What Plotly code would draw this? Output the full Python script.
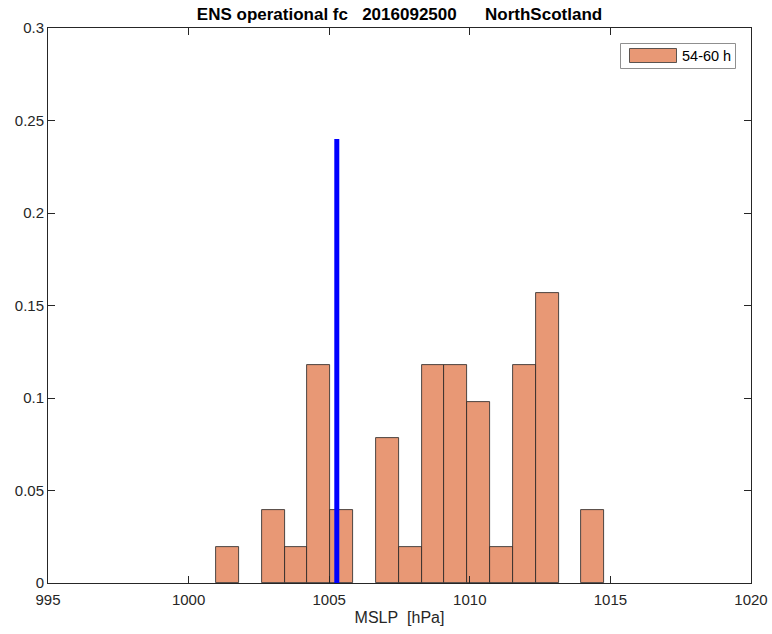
import plotly.graph_objects as go

# Ensemble histogram of MSLP (51 members), lead time 54-60 h
bin_start = 1000.98          # lower edge of the first bin [hPa]
bin_width = 0.8118           # bin width [hPa]
member_counts = [1, 0, 2, 1, 6, 2, 0, 4, 1, 6, 6, 5, 1, 6, 8, 0, 2]
n_members = 51
analysis_mslp = 1005.27      # verifying value [hPa]
analysis_height = 0.24

x_ticks = [995, 1000, 1005, 1010, 1015, 1020]
y_ticks = [0, 0.05, 0.1, 0.15, 0.2, 0.25, 0.3]
y_tick_text = ["0", "0.05", "0.1", "0.15", "0.2", "0.25", "0.3"]

nb = "\u00a0"
title_text = "ENS operational fc" + nb * 3 + "2016092500" + nb * 6 + "NorthScotland"
x_title = "MSLP" + nb * 2 + "[hPa]"
legend_label = "54-60 h"

# only non-empty bins are drawn
centers, probs = [], []
for i, c in enumerate(member_counts):
    if c > 0:
        centers.append(bin_start + bin_width * (i + 0.5))
        probs.append(c / n_members)

bar_fill = "rgb(232,152,117)"
axis_col = "#262626"
font_family = "Liberation Sans, Arial, sans-serif"

# plot area in pixels
L, R, T, B = 48, 21, 28, 51
W, H = 772, 634
pw, ph = W - L - R, H - T - B


def px(xpix):
    return (xpix - L) / pw


def py(ypix):
    return (H - B - ypix) / ph


fig = go.Figure()
fig.add_trace(go.Bar(
    x=centers, y=probs, width=[bin_width] * len(centers),
    marker=dict(color=bar_fill, line=dict(color="#222222", width=0.8)),
    showlegend=False, hoverinfo="x+y",
))
fig.add_trace(go.Scatter(
    x=[analysis_mslp, analysis_mslp], y=[0, analysis_height],
    mode="lines", line=dict(color="#0000ff", width=5),
    showlegend=False,
))

# Legend box drawn in paper coordinates
shapes = [
    dict(type="rect", xref="paper", yref="paper", x0=px(620.5), x1=px(735.5), y0=py(68.5), y1=py(43.5),
         line=dict(color="#8f8f8f", width=1), fillcolor="white", layer="above"),
    dict(type="rect", xref="paper", yref="paper", x0=px(629.5), x1=px(676.5), y0=py(62.5), y1=py(48.5),
         line=dict(color="#333333", width=0.8), fillcolor=bar_fill, layer="above"),
]
annotations = [
    dict(xref="paper", yref="paper", x=px(679.5), y=py(56), xanchor="left", yanchor="middle",
         text=legend_label, showarrow=False,
         font=dict(size=14.5, color="#000000", family=font_family)),
]

fig.update_layout(
    width=W, height=H,
    margin=dict(l=L, r=R, t=T, b=B, autoexpand=False),
    paper_bgcolor="white", plot_bgcolor="white",
    bargap=0,
    font=dict(family=font_family, size=15, color=axis_col),
    title=dict(text="<b>" + title_text + "</b>", x=(L + pw / 2) / W, xanchor="center",
               y=1 - 14 / H, yanchor="middle",
               font=dict(size=17, color="#000000", family=font_family)),
    shapes=shapes, annotations=annotations,
)
fig.update_xaxes(
    range=[995, 1020], tickvals=x_ticks, ticks="inside", ticklen=7, tickcolor=axis_col,
    showline=True, linecolor=axis_col, linewidth=1, mirror="ticks", showgrid=False,
    zeroline=False, automargin=False, ticklabelstandoff=3,
    title=dict(text=x_title, standoff=4, font=dict(size=16)),
    tickfont=dict(size=15),
)
fig.update_yaxes(
    range=[0, 0.3], tickvals=y_ticks, ticktext=y_tick_text, ticks="inside", ticklen=7,
    tickcolor=axis_col, showline=True, linecolor=axis_col, linewidth=1, mirror="ticks",
    showgrid=False, zeroline=False, automargin=False, tickfont=dict(size=15),
)

fig.write_html("out.html")
